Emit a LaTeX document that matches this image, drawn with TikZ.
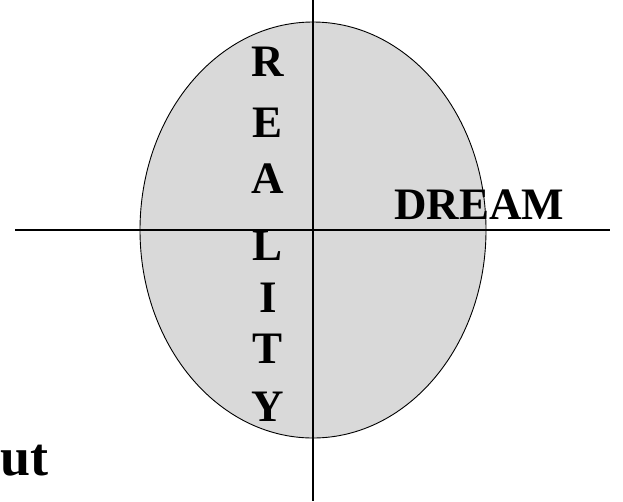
\documentclass[tikz,border=0pt]{standalone}
\usepackage{fontspec}
\setmainfont{Liberation Serif}
\usetikzlibrary{positioning}

\begin{document}
\begin{tikzpicture}[x=1pt,y=-1pt]
  \tikzstyle{axis}=[line width=1.3pt,black]
  \tikzstyle{letter}=[inner sep=0pt,font=\fontsize{45}{45}\selectfont\bfseries]
  \useasboundingbox (0,0) rectangle (623,501);
  % the oval, filled grey
  \draw[fill=black!15,line width=0.9pt] (313,230) ellipse (173 and 208);
  % axes
  \coordinate (top) at (313,0);
  \coordinate (bot) at (313,501);
  \coordinate (left) at (15,230);
  \coordinate (right) at (610,230);
  \draw[axis] (top) -- (bot);
  \draw[axis] (left) -- (right);
  % vertical word
  \node[letter] (r) at (268,62) {R};
  \node[letter] (e) at (268,123) {E};
  \node[letter] (a) at (268,179) {A};
  \node[letter] (l) at (268,246) {L};
  \node[letter] (i) at (268,298) {I};
  \node[letter] (t) at (268,349) {T};
  \node[letter] (y) at (268,407) {Y};
  % horizontal word
  \node[letter,anchor=west] (dream) at (394,205) {DREAM};
  \node[inner sep=0pt,anchor=base west,font=\fontsize{54}{54}\selectfont\bfseries] (ut) at (0,475) {ut};
\end{tikzpicture}
\end{document}
